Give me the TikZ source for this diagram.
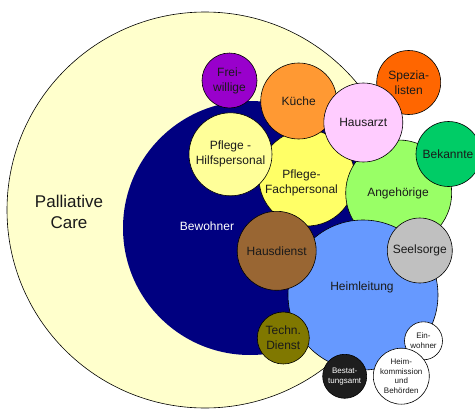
\documentclass[tikz,border=0pt]{standalone}
\usepackage{fontspec}
\setmainfont{Liberation Sans}
\definecolor{cBig}{HTML}{FFFFCC}
\definecolor{cNavy}{HTML}{000080}
\definecolor{cFrei}{HTML}{9900CC}
\definecolor{cKueche}{HTML}{FF9933}
\definecolor{cSpez}{HTML}{FF6600}
\definecolor{cArzt}{HTML}{FFCCFF}
\definecolor{cBek}{HTML}{00CC66}
\definecolor{cHilf}{HTML}{FFFF99}
\definecolor{cFach}{HTML}{FFFF66}
\definecolor{cAng}{HTML}{99FF66}
\definecolor{cHaus}{HTML}{996633}
\definecolor{cHeim}{HTML}{6699FF}
\definecolor{cSeel}{HTML}{C0C0C0}
\definecolor{cTech}{HTML}{807800}
\definecolor{cBest}{HTML}{1E1E1E}
\definecolor{cTxt}{HTML}{1A1A1A}
\begin{document}
\begin{tikzpicture}[x=1pt,y=-1pt,
  bub/.style={circle, draw=black, line width=0.6pt, inner sep=0pt, align=center,
    text=cTxt, font=\fontsize{12}{15}\selectfont},
  small/.style={font=\fontsize{8}{9.8}\selectfont}]
\useasboundingbox (0,0) rectangle (475,410);
\clip (0,0) rectangle (475,410);
\node[bub, fill=cBig, minimum size=396pt, font=\fontsize{17}{21.5}\selectfont] (big) at (205,210) {};
\node[align=center, text=cTxt, font=\fontsize{17}{21.5}\selectfont] (pc) at (69,212) {Palliative\\Care};
\node[circle, fill=cNavy, minimum size=254pt, inner sep=0pt] (bew) at (250,228) {};
\node[text=white, font=\fontsize{12}{15}\selectfont] (bewt) at (207,226) {Bewohner};
\node[bub, fill=cFrei, minimum size=55pt] (frei) at (229.5,80.5) {Frei-\\willige};
\node[bub, fill=cFach, minimum size=96pt] (fach) at (307,178) {};
\node[bub, fill=cHilf, minimum size=83pt] (hilf) at (230.5,154.3) {Pflege -\\Hilfspersonal};
\node[bub, fill=cKueche, minimum size=76pt] (kue) at (298.7,101) {Küche};
\node[bub, fill=cAng, minimum size=106pt] (ang) at (398.7,193) {};
\node[align=center, text=cTxt, font=\fontsize{12}{15}\selectfont] (facht) at (301.5,182.5) {Pflege-\\Fachpersonal};
\node[text=cTxt, font=\fontsize{12}{15}\selectfont] (angt) at (398,193.5) {Angehörige};
\node[bub, fill=cSpez, minimum size=64pt] (spez) at (408.7,82.5) {Spezia-\\listen};
\node[bub, fill=cArzt, minimum size=79pt] (arzt) at (363.3,122.5) {Hausarzt};
\node[bub, fill=cBek, minimum size=65pt] (bek) at (448.5,154) {};
\node[text=cTxt, font=\fontsize{12}{15}\selectfont] (bekt) at (448,154) {Bekannte};
\node[bub, fill=cHeim, minimum size=150pt] (heim) at (363,295) {};
\node[text=cTxt, font=\fontsize{12}{15}\selectfont] (heimt) at (362,287) {Heimleitung};
\node[bub, fill=cHaus, minimum size=79pt] (haus) at (276.7,250.8) {Hausdienst};
\node[bub, fill=cSeel, minimum size=65pt] (seel) at (419.8,250.5) {Seelsorge};
\node[bub, fill=cTech, minimum size=52pt] (tech) at (283.3,338) {Techn.\\Dienst};
\node[bub, fill=cBest, minimum size=44pt, small, text=white] (best) at (344.7,376.3) {Bestat-\\tungsamt};
\node[bub, fill=white, minimum size=38pt, small] (einw) at (423.5,340.8) {Ein-\\wohner};
\node[bub, fill=white, minimum size=56pt, small] (komm) at (401.3,376.2) {Heim-\\kommission\\und\\Behörden};
\end{tikzpicture}
\end{document}
